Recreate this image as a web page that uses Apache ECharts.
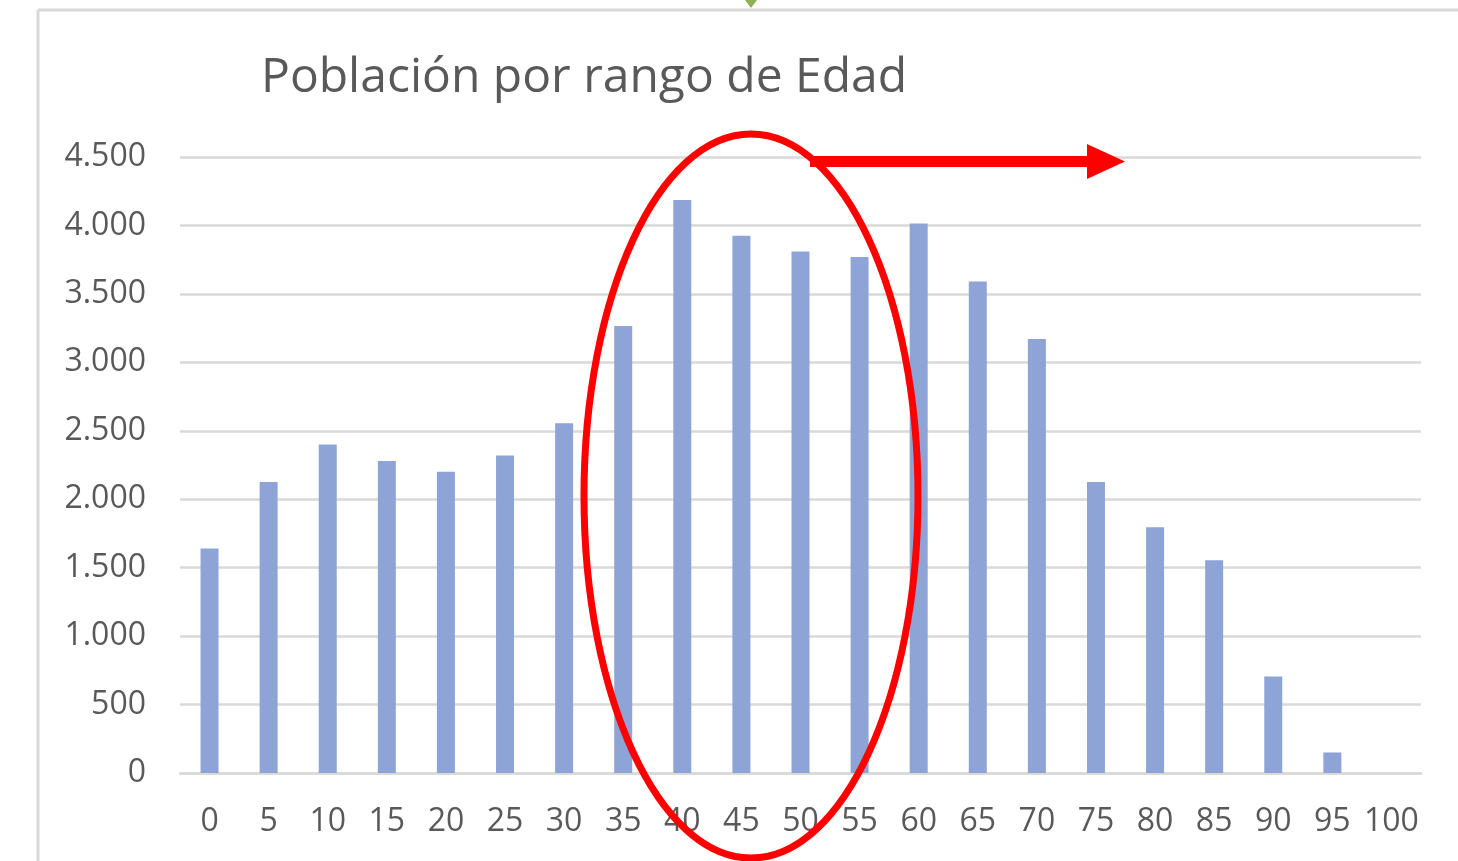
<!DOCTYPE html>
<html>
<head>
<meta charset="utf-8">
<script src="https://cdn.jsdelivr.net/npm/echarts@6/dist/echarts.min.js"></script>
<style>
html,body{margin:0;padding:0;background:#fff;}
#chart{width:1458px;height:861px;}
</style>
</head>
<body>
<div id="chart"></div>
<script>
const categories = ['0','5','10','15','20','25','30','35','40','45','50','55','60','65','70','75','80','85','90','95','100'];
const poblacion = [1640, 2125, 2400, 2280, 2200, 2320, 2555, 3265, 4185, 3925, 3810, 3770, 4015, 3590, 3170, 2125, 1795, 1555, 705, 150, 0];
const yTicks = { min: 0, max: 4500, interval: 500 };
const titleText = 'Población por rango de Edad';

const chart = echarts.init(document.getElementById('chart'), null, {renderer: 'canvas'});
const fontFam = '"Open Sans", "Noto Sans", sans-serif';
chart.setOption({
  animation: false,
  backgroundColor: '#ffffff',
  title: {
    text: titleText,
    left: 256, top: 49,
    textStyle: {fontFamily: fontFam, fontSize: 48, fontWeight: 'normal', color: '#595959'}
  },
  grid: {left: 180, right: 37, top: 157, bottom: 88},
  xAxis: {
    type: 'category',
    data: categories,
    boundaryGap: true,
    axisLine: {lineStyle: {color: '#d9d9d9', width: 2.5}},
    axisTick: {show: false},
    axisLabel: {fontFamily: fontFam, fontSize: 32, color: '#595959', margin: 33, interval: 0}
  },
  yAxis: {
    type: 'value',
    min: yTicks.min, max: yTicks.max, interval: yTicks.interval,
    axisLine: {show: false},
    axisTick: {show: false},
    splitLine: {lineStyle: {color: '#d9d9d9', width: 2.5}},
    axisLabel: {
      fontFamily: fontFam, fontSize: 32, color: '#595959', margin: 34,
      padding: [4, 0, 0, 0],
      formatter: v => v.toString().replace(/\B(?=(\d{3})+(?!\d))/g, '.')
    }
  },
  series: [{
    type: 'bar',
    data: poblacion,
    barWidth: 18,
    itemStyle: {color: '#8fa4d6'}
  }],
  graphic: [
    {type: 'line', shape: {x1: 38, y1: 10, x2: 38, y2: 861}, style: {stroke: '#d9d9d9', lineWidth: 3}, z: 1},
    {type: 'line', shape: {x1: 38, y1: 10, x2: 1458, y2: 10}, style: {stroke: '#d9d9d9', lineWidth: 3}, z: 1},
    {type: 'polygon', shape: {points: [[745, 0], [757, 0], [751, 8]]}, style: {fill: '#8db050'}, z: 10},
    {type: 'ellipse', shape: {cx: 751, cy: 496, rx: 167, ry: 362}, style: {fill: null, stroke: '#ff0000', lineWidth: 7}, z: 10},
    {type: 'rect', shape: {x: 810, y: 156, width: 280, height: 11}, style: {fill: '#ff0000'}, z: 10},
    {type: 'polygon', shape: {points: [[1087, 144], [1125, 161.5], [1087, 179]]}, style: {fill: '#ff0000'}, z: 10}
  ]
});
</script>
</body>
</html>
